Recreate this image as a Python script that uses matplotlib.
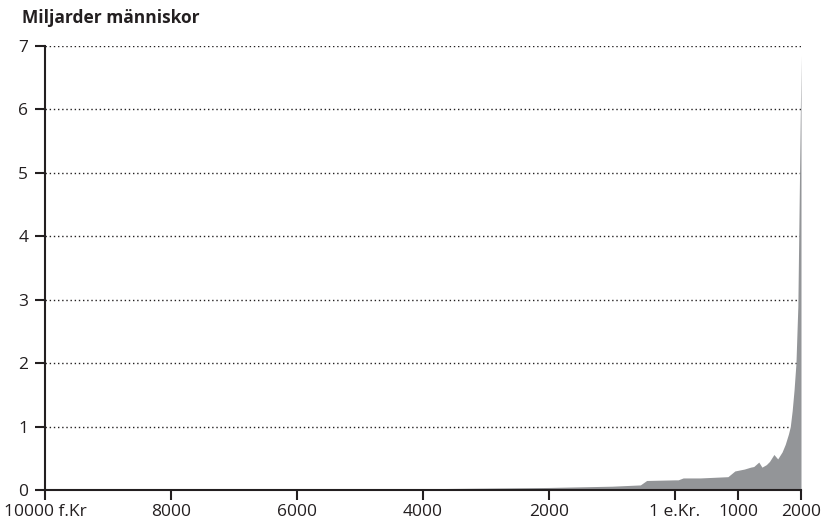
import matplotlib
matplotlib.use('Agg')
import matplotlib.pyplot as plt

# population estimates, year (negative = f.Kr) and billions
years = [-10000, -8000, -6000, -4000, -3000, -2000, -1000, -550, -450, 0, 50, 130,
         400, 840, 950, 1000, 1100, 1200, 1250, 1330, 1380, 1450, 1500, 1570, 1630,
         1700, 1750, 1800, 1830, 1860, 1890, 1920, 1950, 1972, 1990, 2000]
pop = [0.004, 0.005, 0.01, 0.02, 0.03, 0.04, 0.06, 0.08, 0.15, 0.16, 0.16, 0.19,
       0.19, 0.21, 0.30, 0.31, 0.33, 0.36, 0.37, 0.44, 0.36, 0.40, 0.45, 0.56, 0.49,
       0.60, 0.72, 0.88, 1.0, 1.25, 1.58, 2.0, 2.9, 4.6, 6.0, 6.85]

xticks = [-10000, -8000, -6000, -4000, -2000, 0, 1000, 2000]
xlabels = ['10000 f.Kr', '8000', '6000', '4000', '2000', '1 e.Kr.', '1000', '2000']
yticks = [0, 1, 2, 3, 4, 5, 6, 7]

plt.rcParams['font.family'] = ['Open Sans', 'DejaVu Sans']

fig = plt.figure(figsize=(8.28, 5.27), dpi=100)
ax = fig.add_axes([45/828, 1 - 490/527, 756/828, 444/527])

ax.fill_between(years, pop, 0, color='#939598', lw=0, zorder=2)

ax.set_xlim(-10000, 2000)
ax.set_ylim(0, 7)
ax.set_xticks(xticks)
ax.set_xticklabels(xlabels)
ax.set_yticks(yticks)

for y in yticks[1:]:
    ax.axhline(y, color='#231f20', lw=1, ls=(0, (1, 2)), zorder=1)

for s in ['top', 'right']:
    ax.spines[s].set_visible(False)
for s in ['left', 'bottom']:
    ax.spines[s].set_color('#231f20')
    ax.spines[s].set_linewidth(1.5)
    ax.spines[s].set_zorder(3)

ax.tick_params(axis='both', direction='out', length=7, width=1.5, color='#231f20',
               labelsize=12.5, labelcolor='#231f20')
ax.tick_params(axis='y', pad=5)
ax.tick_params(axis='x', pad=3)

fig.text(22/828, 1 - 18/527, 'Miljarder människor', fontsize=12.5, fontweight='bold',
         color='#231f20', va='center', ha='left')

fig.savefig('out.png', dpi=100)
